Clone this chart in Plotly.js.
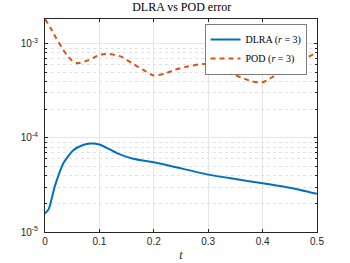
<!DOCTYPE html>
<html>
<head>
<meta charset="utf-8">
<script src="https://cdn.plot.ly/plotly-3.0.1.min.js"></script>
<style>html,body{margin:0;padding:0;background:#fff;}#chart{width:350px;height:263px;}</style>
</head>
<body>
<div id="chart"></div>
<script>
var tDLRA = [0, 0.007, 0.018, 0.034, 0.052, 0.07, 0.083, 0.1, 0.132, 0.162, 0.2, 0.239, 0.3, 0.35, 0.4, 0.45, 0.5];
var errDLRA = [1.57e-5, 1.76e-5, 3.05e-5, 5.4e-5, 7.4e-5, 8.4e-5, 8.7e-5, 8.5e-5, 6.9e-5, 6.0e-5, 5.5e-5, 4.9e-5, 4.07e-5, 3.65e-5, 3.3e-5, 2.95e-5, 2.54e-5];
var tPOD = [0, 0.01, 0.02, 0.03, 0.04, 0.05, 0.06, 0.08, 0.1, 0.116, 0.14, 0.16, 0.18, 0.2, 0.22, 0.239, 0.26, 0.294, 0.32, 0.34, 0.36, 0.38, 0.4, 0.42, 0.44, 0.46, 0.48, 0.5];
var errPOD = [1.83e-3, 1.48e-3, 1.16e-3, 9.3e-4, 7.6e-4, 6.6e-4, 6.2e-4, 6.7e-4, 7.6e-4, 7.8e-4, 7.3e-4, 6.2e-4, 5.3e-4, 4.6e-4, 4.8e-4, 5.3e-4, 5.7e-4, 6.1e-4, 5.5e-4, 4.9e-4, 4.4e-4, 4.0e-4, 3.9e-4, 4.5e-4, 5.3e-4, 6.1e-4, 7.05e-4, 8.1e-4];
var xTicks = [0, 0.1, 0.2, 0.3, 0.4, 0.5];
var xTickText = ['0', '0.1', '0.2', '0.3', '0.4', '0.5'];
var yTicks = [1e-5, 1e-4, 1e-3];
var yTickText = ['10<sup>-5</sup>', '10<sup>-4</sup>', '10<sup>-3</sup>'];
var yMinorTicks = [2e-5, 3e-5, 4e-5, 5e-5, 6e-5, 7e-5, 8e-5, 9e-5, 2e-4, 3e-4, 4e-4, 5e-4, 6e-4, 7e-4, 8e-4, 9e-4];

var traces = [
  {x: tDLRA, y: errDLRA, type: 'scatter', mode: 'lines', name: 'DLRA (<i>r</i> = 3)',
   line: {color: '#0072BD', width: 2, shape: 'spline', smoothing: 0.6}},
  {x: tPOD, y: errPOD, type: 'scatter', mode: 'lines', name: 'POD (<i>r</i> = 3)',
   line: {color: '#D95319', width: 2, dash: '5px,4px', shape: 'spline', smoothing: 0.6}}
];
var axcol = '#262626';
var layout = {
  width: 350, height: 263,
  margin: {l: 45, r: 33, t: 19, b: 31},
  paper_bgcolor: '#fff', plot_bgcolor: '#fff',
  showlegend: true,
  title: {text: 'DLRA vs POD error', x: 0.519, xanchor: 'center', y: 0.99, yanchor: 'top',
          font: {family: 'Liberation Serif', size: 12, weight: 'normal', color: '#000'}},
  xaxis: {
    range: [0, 0.5], tickmode: 'array', tickvals: xTicks, ticktext: xTickText,
    ticks: 'inside', ticklen: 3, tickcolor: axcol, mirror: 'allticks',
    showline: true, linecolor: axcol, linewidth: 1,
    showgrid: true, gridcolor: '#e6e6e6', gridwidth: 1, zeroline: false,
    tickfont: {family: 'Liberation Sans', size: 10, color: axcol},
    title: {text: '<i>t</i>', standoff: 4, font: {family: 'Liberation Serif', size: 12, color: axcol}}
  },
  yaxis: {
    type: 'log', range: [-5, -2.737], tickmode: 'array', tickvals: yTicks, ticktext: yTickText,
    ticks: 'inside', ticklen: 3, tickcolor: axcol, mirror: 'allticks',
    showline: true, linecolor: axcol, linewidth: 1, ticklabelstandoff: 4,
    showgrid: true, gridcolor: '#e6e6e6', gridwidth: 1, zeroline: false,
    tickfont: {family: 'Liberation Sans', size: 10, color: axcol},
    minor: {tickmode: 'array', tickvals: yMinorTicks, ticks: 'inside', ticklen: 2, tickcolor: axcol,
            showgrid: true, gridcolor: '#e2e2e2', griddash: 'dot', gridwidth: 1}
  },
  legend: {x: 0.963, xanchor: 'right', y: 0.975, yanchor: 'top',
           bgcolor: '#fff', bordercolor: axcol, borderwidth: 0.6,
           font: {family: 'Liberation Serif', size: 10, weight: 'normal', color: '#000'},
           tracegroupgap: 0, itemwidth: 30}
};
Plotly.newPlot('chart', traces, layout, {displayModeBar: false, staticPlot: true});
</script>
</body>
</html>
